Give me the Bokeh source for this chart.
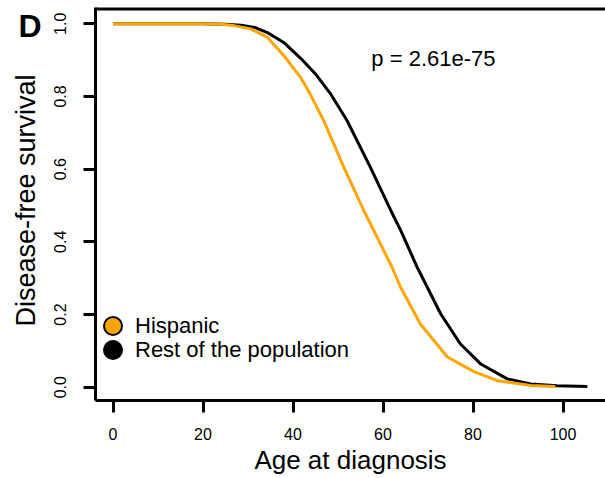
from bokeh.plotting import figure
from bokeh.models import (FixedTicker, Label, Legend, LegendItem, Range1d,
                          LinearAxis)
from bokeh.embed import file_html
from bokeh.resources import INLINE

# ---- data ----
hisp_age = [0, 20, 24, 26.8, 30.6, 34.3, 38.0, 41.7, 43.5, 46.8, 51.3, 55.7,
            59.4, 62.0, 63.9, 68.3, 74.3, 80.2, 85.4, 92.8, 98.3]
hisp_surv = [1.0, 1.0, 0.999, 0.995, 0.986, 0.963, 0.912, 0.852, 0.814, 0.734,
             0.605, 0.487, 0.395, 0.330, 0.275, 0.174, 0.083, 0.043, 0.018,
             0.005, 0.002]

rest_age = [0, 20, 25, 28.5, 31.5, 34.3, 38.0, 41.7, 45.0, 48.3, 52.0, 57.2,
            61.7, 63.9, 67.6, 72.8, 77.2, 81.7, 87.6, 92.8, 98.7, 105.4]
rest_surv = [1.0, 1.0, 0.999, 0.996, 0.990, 0.976, 0.948, 0.905, 0.862, 0.808,
             0.734, 0.605, 0.487, 0.432, 0.330, 0.202, 0.119, 0.064, 0.023,
             0.009, 0.004, 0.002]

series_labels = ["Hispanic", "Rest of the population"]
x_ticks = [0, 20, 40, 60, 80, 100]
y_ticks = [0.0, 0.2, 0.4, 0.6, 0.8, 1.0]
y_tick_labels = ["0.0", "0.2", "0.4", "0.6", "0.8", "1.0"]
p_text = "p = 2.61e-75"
panel_letter = "D"

ORANGE = "#FFA500"
FONT = "Liberation Sans"
NAN = float("nan")

X_START, X_END = -3.89, 109.44
Y_START, Y_END = -0.0366, 1.0641
BOX_TOP = 1.0407   # level of the top border of the box

p = figure(width=605, height=478, output_backend="svg", toolbar_location=None,
           x_range=Range1d(X_START, X_END), y_range=Range1d(Y_START, Y_END),
           min_border_left=95, min_border_right=0, min_border_top=0,
           min_border_bottom=78)
p.xgrid.visible = False
p.ygrid.visible = False
p.outline_line_color = None
p.background_fill_color = "white"
p.border_fill_color = "white"

def style_axis(ax):
    ax.axis_line_width = 3
    ax.axis_line_color = "black"
    ax.major_tick_line_width = 3
    ax.major_tick_line_color = "black"
    ax.major_tick_out = 12
    ax.major_tick_in = 0
    ax.minor_tick_out = 0
    ax.minor_tick_in = 0
    ax.major_label_text_font = FONT
    ax.major_label_text_font_size = "16px"
    ax.major_label_text_color = "black"
    ax.axis_label_text_font = FONT
    ax.axis_label_text_font_style = "normal"
    ax.axis_label_text_color = "black"

xa = p.xaxis[0]
style_axis(xa)
xa.ticker = FixedTicker(ticks=x_ticks)
xa.axis_label = "Age at diagnosis"
xa.axis_label_text_font_size = "26px"
xa.major_label_standoff = 15
xa.axis_label_standoff = 2

ya = p.yaxis[0]
style_axis(ya)
ya.ticker = FixedTicker(ticks=y_ticks)
ya.major_label_overrides = {t: s for t, s in zip(y_ticks, y_tick_labels)}
ya.major_label_orientation = "vertical"
ya.major_label_standoff = 17
ya.bounds = (Y_START, BOX_TOP + 0.004)

# outer left axis: carries the panel letter (as its only label) and the
# y-axis title
D_POS = 0.993
outer = LinearAxis(ticker=FixedTicker(ticks=[D_POS]),
                   major_label_overrides={D_POS: panel_letter},
                   major_label_orientation="horizontal",
                   axis_line_color=None, major_tick_line_color=None,
                   minor_tick_line_color=None,
                   major_tick_out=0, major_tick_in=0,
                   minor_tick_out=0, minor_tick_in=0,
                   major_label_standoff=10,
                   major_label_text_font=FONT,
                   major_label_text_font_style="bold",
                   major_label_text_font_size="32px",
                   major_label_text_color="black",
                   axis_label="Disease-free survival",
                   axis_label_text_font=FONT,
                   axis_label_text_font_style="normal",
                   axis_label_text_font_size="27px",
                   axis_label_text_color="black",
                   axis_label_standoff=-26)
p.add_layout(outer, "left")

# top border of the box, spanning the whole x range
p.line([X_START, X_END], [BOX_TOP, BOX_TOP], line_color="black", line_width=3)

p.line(rest_age, rest_surv, line_color="black", line_width=3)
p.line(hisp_age, hisp_surv, line_color=ORANGE, line_width=3)

# invisible renderers that only provide the legend symbols
g1 = p.scatter(x=[NAN], y=[NAN], marker="circle", fill_color=ORANGE,
               line_color="black", line_width=2)
g2 = p.scatter(x=[NAN], y=[NAN], marker="circle", fill_color="black",
               line_color="black", line_width=2)

def make_legend(label, rend, loc):
    return Legend(items=[LegendItem(label=label, renderers=[rend])],
                  location=loc, glyph_width=45, glyph_height=45,
                  spacing=0, label_standoff=0, padding=0, margin=0,
                  border_line_color=None, background_fill_alpha=0,
                  label_text_font=FONT, label_text_font_size="22px",
                  label_text_color="black")

p.add_layout(make_legend(series_labels[0], g1, (-5, 52)))
p.add_layout(make_legend(series_labels[1], g2, (-5, 28)))

p.add_layout(Label(x=71.2, y=0.905, text=p_text, text_align="center",
                   text_baseline="middle", text_font=FONT,
                   text_font_size="22px", text_color="black"))

open("out.html", "w").write(file_html(p, INLINE))
